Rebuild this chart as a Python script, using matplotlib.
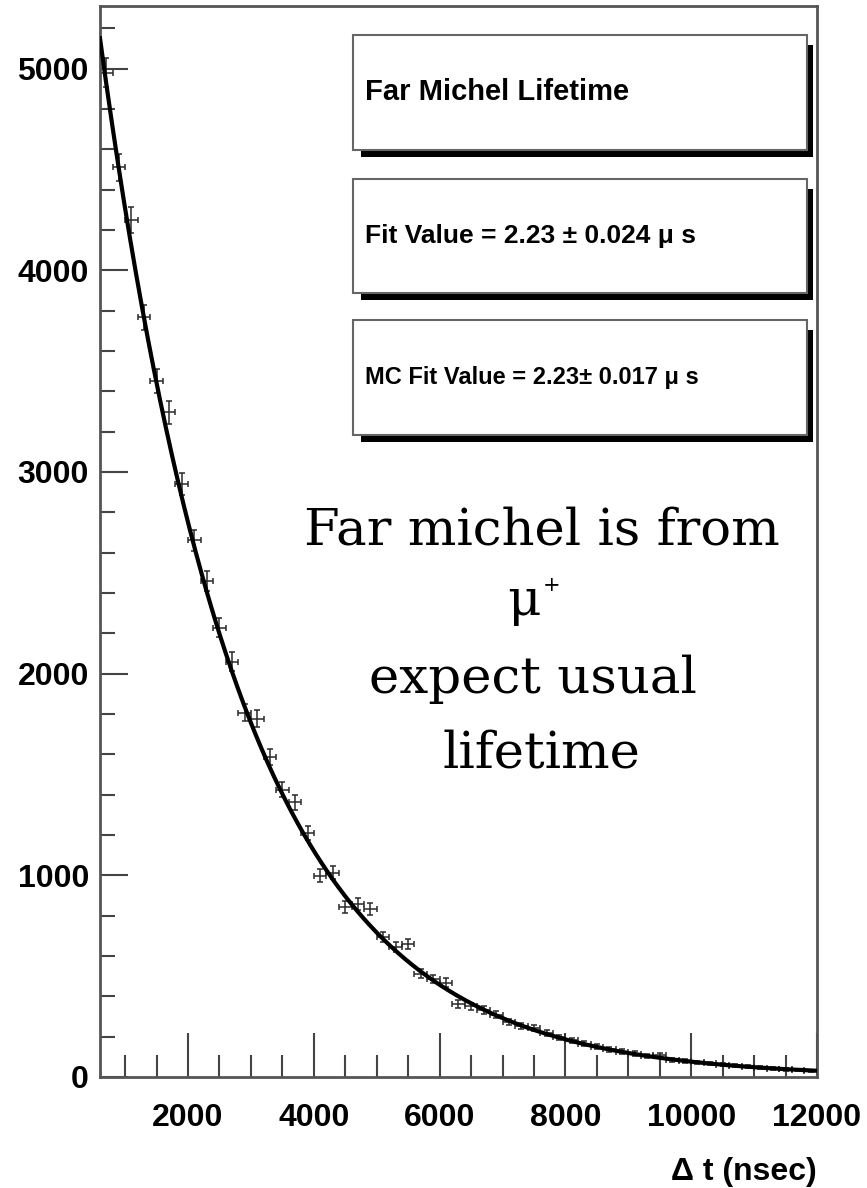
import numpy as np
import matplotlib.pyplot as plt
from matplotlib.patches import Rectangle
from matplotlib.ticker import MultipleLocator

# time bin centres (ns) and counts per 200 ns bin
dt_ns = [700, 900, 1100, 1300, 1500, 1700, 1900, 2100, 2300, 2500,
         2700, 2900, 3100, 3300, 3500, 3700, 3900, 4100, 4300, 4500,
         4700, 4900, 5100, 5300, 5500, 5700, 5900, 6100, 6300, 6500,
         6700, 6900, 7100, 7300, 7500, 7700, 7900, 8100, 8300, 8500,
         8700, 8900, 9100, 9300, 9500, 9700, 9900, 10100, 10300, 10500,
         10700, 10900, 11100, 11300, 11500, 11700, 11900]
counts = [4980, 4510, 4250, 3767, 3450, 3295, 2938, 2660, 2457, 2228,
          2060, 1806, 1777, 1588, 1424, 1362, 1211, 998, 1012, 844,
          859, 834, 695, 645, 658, 511, 486, 467, 362, 350,
          333, 308, 273, 253, 243, 218, 196, 182, 165, 150,
          138, 126, 116, 104, 108, 84, 79, 72, 67, 60,
          56, 50, 47, 42, 38, 36, 31]
bin_width = 200

# fit results (lifetime in microseconds)
fit_tau_us = 2.23
fit_err_us = 0.024
mc_tau_us = 2.23
mc_err_us = 0.017
fit_norm = 6740

box_texts = ["Far Michel Lifetime",
             f"Fit Value = {fit_tau_us:.2f} ± {fit_err_us:.3f} μ s",
             f"MC Fit Value = {mc_tau_us:.2f}± {mc_err_us:.3f} μ s"]
note_lines = ["Far michel is from", "μ", "expect usual", "lifetime"]

W, H = 867, 1188
fig = plt.figure(figsize=(W / 100, H / 100), dpi=100)


def fx(px):
    return px / W


def fy(py):
    return 1 - py / H


ax = fig.add_axes([fx(100), fy(1077), fx(817) - fx(100), fy(6) - fy(1077)])

x = np.array(dt_ns)
y = np.array(counts)
ax.errorbar(x, y, xerr=bin_width / 2, yerr=np.sqrt(y), fmt="none",
            ecolor="#2a2a2a", elinewidth=1.1, capsize=2, capthick=1.1, zorder=2)

# exponential fit curve
t = np.linspace(600, 12000, 600)
ax.plot(t, fit_norm * np.exp(-t / (fit_tau_us * 1000)), color="black", lw=3, zorder=3)

ax.set_xlim(600, 12000)
ax.set_ylim(0, 5310)

ax.xaxis.set_major_locator(MultipleLocator(2000))
ax.xaxis.set_minor_locator(MultipleLocator(500))
ax.yaxis.set_major_locator(MultipleLocator(1000))
ax.yaxis.set_minor_locator(MultipleLocator(200))

ax.tick_params(axis="both", which="both", direction="in", top=False, right=False,
               color="#444444", width=1.5)
ax.tick_params(axis="x", which="major", length=32, pad=19)
ax.tick_params(axis="x", which="minor", length=16)
ax.tick_params(axis="y", which="major", length=20, pad=8)
ax.tick_params(axis="y", which="minor", length=11)

for lab in ax.get_xticklabels() + ax.get_yticklabels():
    lab.set_fontfamily("Liberation Sans")
    lab.set_fontweight("bold")
    lab.set_fontsize(23)

for sp in ax.spines.values():
    sp.set_color("#555555")
    sp.set_linewidth(2)

fig.text(fx(817), fy(1172), "Δ t (nsec)", ha="right", va="center",
         fontfamily="Liberation Sans", fontweight="bold", fontsize=23)

# stat boxes with drop shadows
boxes = [(35, 150), (179, 293), (320, 435)]
sizes = [21, 19, 17]
for (top, bot), txt, fs in zip(boxes, box_texts, sizes):
    shadow = Rectangle((fx(361), fy(bot + 7)), fx(813) - fx(361), fy(top + 10) - fy(bot + 7),
                       transform=fig.transFigure, facecolor="black", edgecolor="none", zorder=5)
    box = Rectangle((fx(353), fy(bot)), fx(807) - fx(353), fy(top) - fy(bot),
                    transform=fig.transFigure, facecolor="white", edgecolor="#666666",
                    linewidth=1.5, zorder=6)
    fig.patches.extend([shadow, box])
    fig.text(fx(365), fy((top + bot) / 2), txt, ha="left", va="center",
             fontfamily="Liberation Sans", fontweight="bold", fontsize=fs, zorder=7)

# annotation in serif
for xx, yy, line in zip([542, 524, 533, 541], [545, 615, 693, 768], note_lines):
    fig.text(fx(xx), fy(yy), line, ha="center", va="baseline",
             fontfamily="DejaVu Serif", fontsize=37)
fig.text(fx(543), fy(591), "+", ha="left", va="baseline",
         fontfamily="DejaVu Serif", fontsize=15)

fig.savefig("out.png", dpi=100)
